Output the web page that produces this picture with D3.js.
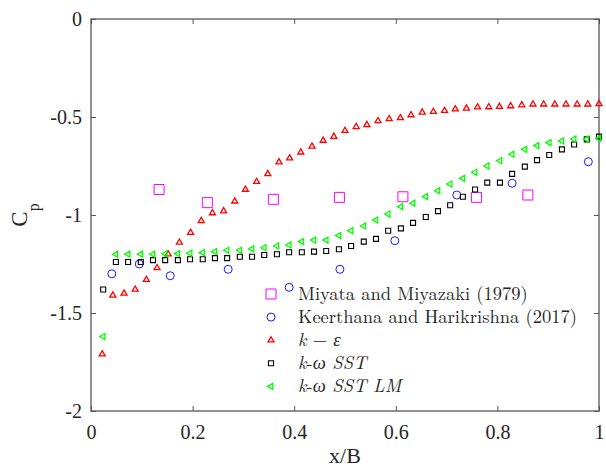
<!DOCTYPE html>
<html>
<head>
<meta charset="utf-8">
<script src="https://cdn.jsdelivr.net/npm/d3@7"></script>
<style>
  body { margin: 0; background: #fff; }
</style>
</head>
<body>
<svg width="606" height="468"></svg>
<script>
// tick labels
const xTicks = [0, 0.2, 0.4, 0.6, 0.8, 1];
const yTicks = [0, -0.5, -1, -1.5, -2];

// Miyata and Miyazaki (1979)
const miyataX = [0.134, 0.229, 0.359, 0.489, 0.614, 0.759, 0.860];
const miyataCp = [-0.87, -0.937, -0.92, -0.91, -0.907, -0.91, -0.898];

// Keerthana and Harikrishna (2017)
const keerX = [0.041, 0.095, 0.156, 0.270, 0.390, 0.490, 0.598, 0.720, 0.829, 0.979];
const keerCp = [-1.30, -1.25, -1.31, -1.277, -1.369, -1.277, -1.131, -0.898, -0.838, -0.728];

// k - epsilon
const kEpsX = [0.022, 0.043, 0.065, 0.087, 0.109, 0.130, 0.152, 0.174, 0.196, 0.217,
  0.239, 0.261, 0.283, 0.304, 0.326, 0.348, 0.370, 0.391, 0.413, 0.435,
  0.457, 0.478, 0.500, 0.522, 0.543, 0.565, 0.587, 0.609, 0.630, 0.652,
  0.674, 0.696, 0.717, 0.739, 0.761, 0.783, 0.804, 0.826, 0.848, 0.870,
  0.891, 0.913, 0.935, 0.957, 0.978, 1.000];
const kEpsCp = [-1.71, -1.41, -1.40, -1.38, -1.33, -1.27, -1.20, -1.14, -1.09, -1.03,
  -0.99, -0.98, -0.93, -0.87, -0.83, -0.79, -0.73, -0.71, -0.68, -0.65,
  -0.62, -0.60, -0.57, -0.55, -0.54, -0.52, -0.51, -0.505, -0.49, -0.476,
  -0.473, -0.468, -0.46, -0.456, -0.45, -0.449, -0.447, -0.444, -0.439, -0.435,
  -0.435, -0.435, -0.435, -0.435, -0.435, -0.433];

// k-omega SST and SST LM share the same stations
const sstX = [0.024, 0.049, 0.073, 0.098, 0.122, 0.146, 0.171, 0.195, 0.220, 0.244,
  0.268, 0.293, 0.317, 0.341, 0.366, 0.390, 0.415, 0.439, 0.463, 0.488,
  0.512, 0.537, 0.561, 0.585, 0.610, 0.634, 0.659, 0.683, 0.707, 0.732,
  0.756, 0.780, 0.805, 0.829, 0.854, 0.878, 0.902, 0.927, 0.951, 0.976, 1.000];
const sstCp = [-1.38, -1.24, -1.24, -1.24, -1.23, -1.23, -1.23, -1.226, -1.226, -1.22,
  -1.22, -1.213, -1.213, -1.204, -1.20, -1.19, -1.19, -1.187, -1.184, -1.175,
  -1.158, -1.136, -1.122, -1.08, -1.068, -1.04, -1.01, -0.98, -0.95, -0.907,
  -0.87, -0.835, -0.835, -0.79, -0.753, -0.72, -0.694, -0.665, -0.64, -0.614, -0.60];
const sstLmCp = [-1.62, -1.20, -1.20, -1.20, -1.20, -1.198, -1.197, -1.195, -1.192, -1.187,
  -1.18, -1.18, -1.173, -1.167, -1.158, -1.153, -1.136, -1.128, -1.128, -1.105,
  -1.08, -1.056, -1.026, -0.995, -0.957, -0.94, -0.906, -0.876, -0.842, -0.813,
  -0.782, -0.75, -0.723, -0.69, -0.665, -0.646, -0.631, -0.622, -0.612, -0.612, -0.609];

const serif = "'Liberation Serif'";
const latex = "'Latin Modern Roman'";

let svg = d3.select("svg"),
    margin = {top: 19, right: 7, bottom: 57, left: 91},
    width = +svg.attr("width") - margin.left - margin.right,
    height = +svg.attr("height") - margin.top - margin.bottom,
    g = svg.append("g").attr("transform", "translate(" + margin.left + "," + margin.top + ")");

let x = d3.scaleLinear().domain([0, 1]).range([0, width]);
let y = d3.scaleLinear().domain([-2, 0]).range([height, 0]);

// marker shapes
const sq = s => d3.symbol(d3.symbolSquare, s * s)();
const tri = s => d3.symbol(d3.symbolTriangle, s * s * 0.433)();

let series = [
  {name: "miyata", xs: miyataX, ys: miyataCp, path: sq(10), rot: 0, color: "#ff00ff", sw: 1},
  {name: "keer", xs: keerX, ys: keerCp, path: d3.symbol(d3.symbolCircle, Math.PI * 16)(), rot: 0, color: "#0000ff", sw: 0.9},
  {name: "keps", xs: kEpsX, ys: kEpsCp, path: tri(6), rot: 0, color: "#ff0000", sw: 1.3},
  {name: "sst", xs: sstX, ys: sstCp, path: sq(5), rot: 0, color: "#000000", sw: 1.1},
  {name: "sstlm", xs: sstX, ys: sstLmCp, path: tri(6), rot: -90, color: "#00ff00", sw: 1.3}
];

// axes box
g.append("rect")
    .attr("width", width)
    .attr("height", height)
    .attr("fill", "none")
    .attr("stroke", "#858585")
    .attr("stroke-width", 1.8);

function styleAxis(sel) {
  sel.select(".domain").remove();
  sel.selectAll(".tick line").attr("stroke", "#555").attr("stroke-width", 1);
  sel.selectAll(".tick text")
      .attr("fill", "#262626")
      .style("font-size", "20px")
      .style("font-family", serif);
}

g.append("g")
    .attr("transform", "translate(0," + height + ")")
    .call(d3.axisBottom(x).tickValues(xTicks).tickFormat(d => String(d))
      .tickSizeInner(-5).tickSizeOuter(0).tickPadding(14))
    .call(styleAxis);

g.append("g")
    .call(d3.axisTop(x).tickValues(xTicks).tickFormat("").tickSizeInner(-5).tickSizeOuter(0))
    .call(styleAxis);

g.append("g")
    .call(d3.axisLeft(y).tickValues(yTicks).tickFormat(d => String(d))
      .tickSizeInner(-5).tickSizeOuter(0).tickPadding(9))
    .call(styleAxis);

g.append("g")
    .attr("transform", "translate(" + width + ",0)")
    .call(d3.axisRight(y).tickValues(yTicks).tickFormat("").tickSizeInner(-5).tickSizeOuter(0))
    .call(styleAxis);

// data markers
series.forEach(function(s) {
  g.append("g")
      .attr("class", s.name)
    .selectAll("path")
    .data(s.xs.map((v, i) => [v, s.ys[i]]))
    .enter().append("path")
      .attr("d", s.path)
      .attr("transform", d => "translate(" + x(d[0]) + "," + y(d[1]) + ") rotate(" + s.rot + ")")
      .attr("fill", "none")
      .attr("stroke", s.color)
      .attr("stroke-width", s.sw);
});

// axis titles
g.append("text")
    .attr("x", width / 2)
    .attr("y", height + 52)
    .attr("text-anchor", "middle")
    .attr("fill", "#262626")
    .style("font-family", serif)
    .style("font-size", "22px")
    .text("x/B");

let yl = svg.append("text")
    .attr("transform", "translate(27," + (margin.top + height / 2) + ") rotate(-90)")
    .attr("text-anchor", "middle")
    .attr("fill", "#262626")
    .style("font-family", serif)
    .style("font-size", "23px");
yl.append("tspan").text("C");
yl.append("tspan").style("font-size", "16px").attr("dy", 12).text("p");

// legend
let legendLabels = [
  [{t: "Miyata and Miyazaki (1979)"}],
  [{t: "Keerthana and Harikrishna (2017)"}],
  [{t: "k", i: true}, {t: " \u2212 "}, {t: "\u03b5", i: true}],
  [{t: "k", i: true}, {t: "-"}, {t: "\u03c9 SST", i: true}],
  [{t: "k", i: true}, {t: "-"}, {t: "\u03c9 SST LM", i: true}]
];

let legend = svg.append("g")
    .attr("transform", "translate(271,294)")
  .selectAll("g")
  .data(series)
  .enter().append("g")
    .attr("transform", (d, i) => "translate(0," + i * 23.1 + ")");

legend.append("path")
    .attr("d", d => d.path)
    .attr("transform", d => "rotate(" + d.rot + ")")
    .attr("fill", "none")
    .attr("stroke", d => d.color)
    .attr("stroke-width", d => d.sw);

legend.append("text")
    .attr("x", 27)
    .attr("dy", "0.3em")
    .attr("fill", "#262626")
    .style("font-family", latex)
    .style("font-size", "18.5px")
    .each(function(d, i) {
      let t = d3.select(this);
      legendLabels[i].forEach(function(p) {
        t.append("tspan")
            .style("font-style", p.i ? "italic" : "normal")
            .text(p.t);
      });
    });
</script>
</body>
</html>
